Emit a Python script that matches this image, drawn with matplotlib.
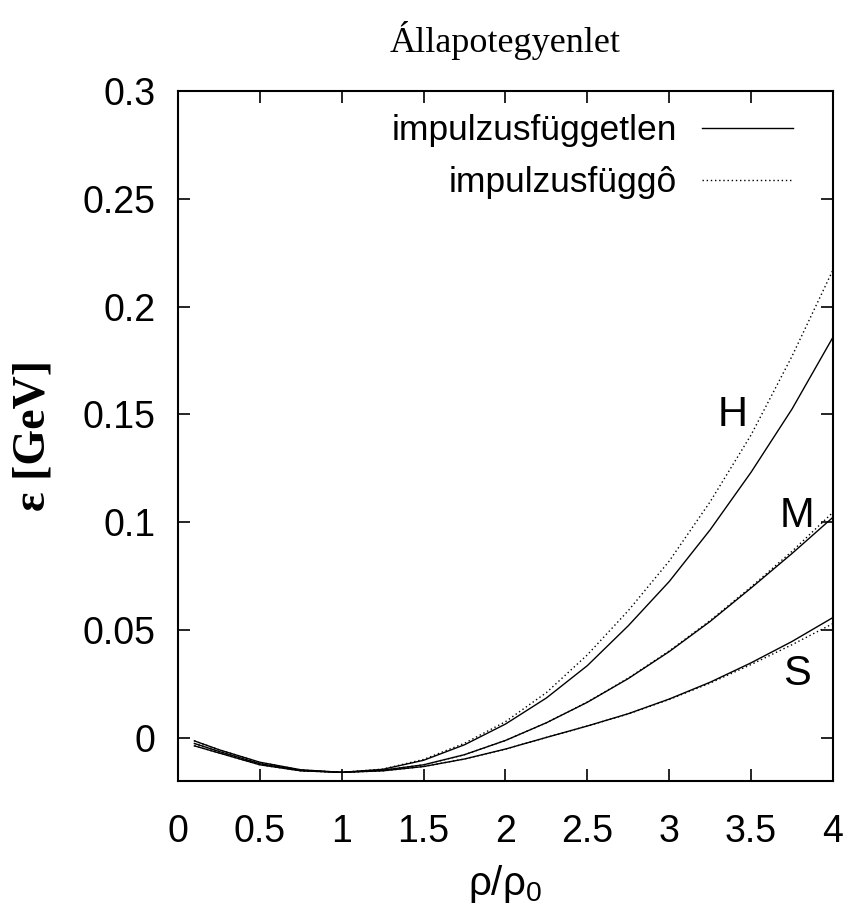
import matplotlib
matplotlib.use("Agg")
import matplotlib.pyplot as plt
from matplotlib.ticker import FormatStrFormatter

plt.rcParams['font.family'] = ['Liberation Sans', 'DejaVu Sans']
plt.rcParams['mathtext.fontset'] = 'custom'
plt.rcParams['mathtext.rm'] = 'Liberation Sans'
plt.rcParams['mathtext.it'] = 'Liberation Sans'

# density rho/rho0
x = [0.1, 0.25, 0.5, 0.75, 1.0, 1.25, 1.5, 1.75, 2.0, 2.25, 2.5, 2.75, 3.0, 3.25, 3.5, 3.75, 4.0]

# energy per nucleon [GeV]
h_indep = [-0.0014, -0.0055, -0.0113, -0.0148, -0.0160, -0.0146, -0.0104, -0.0032, 0.0064,
           0.0185, 0.0335, 0.0520, 0.0725, 0.0965, 0.1232, 0.1525, 0.1858]
h_dep = [-0.0014, -0.0055, -0.0114, -0.0149, -0.0160, -0.0145, -0.0100, -0.0025, 0.0075,
         0.0210, 0.0385, 0.0590, 0.0820, 0.1095, 0.1405, 0.1770, 0.2170]
m_indep = [-0.0026, -0.0063, -0.0120, -0.0151, -0.0160, -0.0150, -0.0125, -0.0078, -0.0012,
           0.0070, 0.0165, 0.0275, 0.0400, 0.0540, 0.0695, 0.0855, 0.1023]
m_dep = [-0.0026, -0.0063, -0.0120, -0.0151, -0.0160, -0.0150, -0.0125, -0.0078, -0.0012,
         0.0070, 0.0166, 0.0277, 0.0403, 0.0544, 0.0700, 0.0865, 0.1046]
s_indep = [-0.0037, -0.0070, -0.0125, -0.0153, -0.0160, -0.0153, -0.0133, -0.0098, -0.0052,
           0.0002, 0.0055, 0.0112, 0.0180, 0.0258, 0.0348, 0.0447, 0.0558]
s_dep = [-0.0037, -0.0070, -0.0125, -0.0153, -0.0160, -0.0153, -0.0133, -0.0098, -0.0052,
         0.0002, 0.0055, 0.0111, 0.0178, 0.0254, 0.0340, 0.0432, 0.0530]

labels = ["H", "M", "S"]
label_pos = [(3.39, 0.1495), (3.78, 0.103), (3.78, 0.0297)]

fig = plt.figure(figsize=(8.46, 9.16), dpi=100)
ax = fig.add_axes([0.2104, 0.1474, 0.7742, 0.7533])

dot = (0, (1, 2))
ax.plot(x, h_indep, color="black", lw=1.0, label="impulzusfüggetlen")
ax.plot(x, h_dep, color="black", lw=1.0, ls=dot, label="impulzusfüggô")
ax.plot(x, m_indep, color="black", lw=1.0)
ax.plot(x, m_dep, color="black", lw=1.0, ls=dot)
ax.plot(x, s_indep, color="black", lw=1.0)
ax.plot(x, s_dep, color="black", lw=1.0, ls=dot)

for lab, (lx, ly) in zip(labels, label_pos):
    ax.text(lx, ly, lab, fontsize=30, ha="center", va="center")

ax.set_xlim(0, 4)
ax.set_ylim(-0.02, 0.3)
ax.set_xticks([0, 0.5, 1, 1.5, 2, 2.5, 3, 3.5, 4])
ax.set_yticks([0, 0.05, 0.1, 0.15, 0.2, 0.25, 0.3])
ax.xaxis.set_major_formatter(FormatStrFormatter('%g'))
ax.yaxis.set_major_formatter(FormatStrFormatter('%g'))
ax.tick_params(direction="in", length=8.5, width=1.2, top=True, right=True, labelsize=27)
ax.tick_params(axis="x", pad=24)
ax.tick_params(axis="y", pad=16)
for sp in ax.spines.values():
    sp.set_linewidth(1.5)

ax.set_title("Állapotegyenlet", family=["Liberation Serif", "DejaVu Serif"], fontsize=26, pad=28)
ax.set_ylabel("ε [GeV]", family=["Liberation Serif", "DejaVu Serif"], fontweight="bold",
              fontsize=33, labelpad=20)
ax.set_xlabel("ρ/ρ$_0$", fontsize=29, labelpad=9)

ax.legend(loc="upper right", bbox_to_anchor=(0.939, 0.966), frameon=False, fontsize=25.5,
          markerfirst=False, handlelength=2.57, handletextpad=0.7, labelspacing=0.53,
          borderpad=0, borderaxespad=0)

fig.savefig("out.png", dpi=100)
